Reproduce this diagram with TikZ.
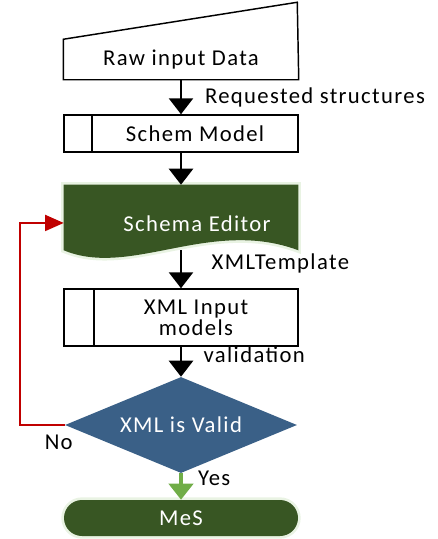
\documentclass[tikz,border=0pt]{standalone}
\usepackage{fontspec}
\setmainfont{Carlito}[LetterSpace=6]
\usetikzlibrary{arrows.meta,shapes.geometric,backgrounds}
\usepackage{xcolor}
\definecolor{edGreen}{RGB}{56,86,35}
\definecolor{valBlue}{RGB}{58,96,135}
\definecolor{yesGreen}{RGB}{112,173,71}
\definecolor{noRed}{RGB}{192,0,0}

\begin{document}
\begin{tikzpicture}[x=0.75pt,y=-0.75pt,
                    font=\fontsize{17}{16}\selectfont,
                    boxND/.style={rectangle,
                                  draw=black,
                                  line width=1.1pt,
                                  minimum width=175.5pt,
                                  inner sep=0pt},
                    procND/.style={boxND,
                                   path picture={\draw[line width=1.1pt]
                                     ([xshift=#1]path picture bounding box.north west) --
                                     ([xshift=#1]path picture bounding box.south west);}},
                    decND/.style={diamond,
                                  aspect=2.4,
                                  fill=valBlue,
                                  text=white,
                                  minimum width=174pt,
                                  minimum height=72pt,
                                  inner sep=0pt},
                    termND/.style={rectangle,
                                   rounded corners=13.5pt,
                                   fill=edGreen,
                                   text=white,
                                   minimum width=175.5pt,
                                   minimum height=27pt,
                                   preaction={draw=yesGreen!60, line width=4pt, opacity=0.25}},
                    glow/.style={preaction={draw=yesGreen!60, line width=4pt, opacity=0.25}},
                    flow/.style={-{Triangle[width=18pt,length=12pt]}, line width=2pt},
                    lbl/.style={inner sep=2pt}]
    \useasboundingbox (0,0) rectangle (438,539);

    % input, sub-processes and editor
    \node[boxND, draw=none, minimum height=29.25pt] (raw) at (181,59.5) {Raw input Data};
    \draw[line width=1.1pt] (raw.south west) -- (raw.north west) -- ++(234,-37)
                            -- (raw.south east) -- cycle;

    \node[procND=21pt, minimum height=27.75pt,
          label={[xshift=10.5pt]center:Schem Model}] (schem) at (181,133.5) {};

    \node[rectangle, minimum width=175.5pt, minimum height=48.75pt, inner sep=0pt,
          label={[text=white, xshift=12pt, yshift=-4.5pt]center:Schema Editor}] (editor) at (181,217.5) {};
    \begin{scope}[on background layer]
        \fill[edGreen, glow] (editor.south west) -- (editor.north west) -- (editor.north east)
            -- (editor.south east) .. controls +(-88,-33) and +(67,28) .. (editor.south west) -- cycle;
    \end{scope}

    \node[procND=22.5pt, minimum height=42.75pt,
          label={[xshift=11.25pt, align=center]center:XML Input\\models}] (xmlin) at (181,317.5) {};

    % decision and end
    \node[decND] (valid) at (181,425) {XML is Valid};
    \node[termND] (mes) at (181,518) {MeS};

    \path[flow]
        (raw)    edge node[lbl, right=15pt]                {Requested structures} (schem)
        (schem)  edge                                                       (editor)
        (editor) edge node[lbl, right=20pt, yshift=4pt]    {XMLTemplate}          (xmlin)
        (xmlin)  edge node[lbl, right=14pt, yshift=5pt]    {validation}           (valid)
        ;
    \draw[flow, draw=yesGreen, fill=yesGreen, line width=3.5pt] (valid) --
        node[lbl, right=9pt, yshift=6pt, text=black] {Yes} (mes);

    % back to the editor
    \draw[noRed, line width=1.5pt, -{Triangle[width=12pt,length=14pt]}]
        (valid.west) -- ++(-45,0) |- ([yshift=-4.1pt]editor.west);
    \node[lbl] (no) at ([xshift=-4.5pt,yshift=-12.75pt]valid.west) {No};
\end{tikzpicture}
\end{document}
